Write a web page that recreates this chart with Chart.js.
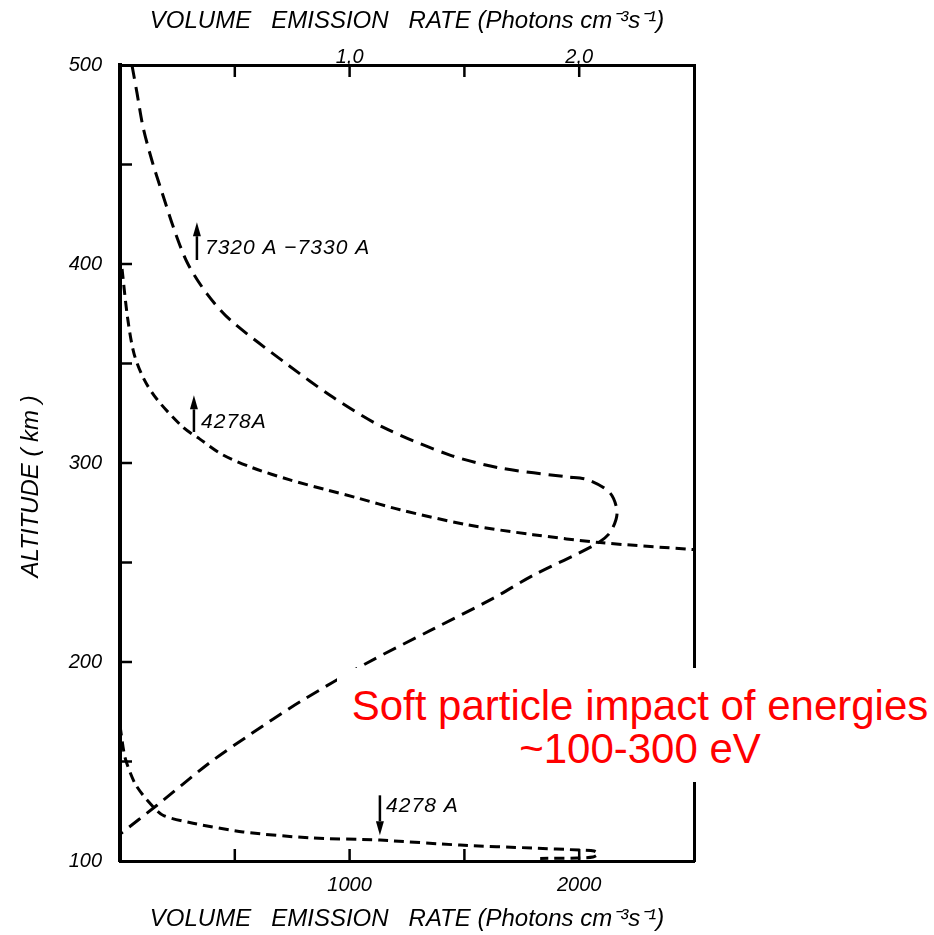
<!DOCTYPE html>
<html><head><meta charset="utf-8">
<script src="https://cdn.jsdelivr.net/npm/chart.js@4.4.1/dist/chart.umd.min.js"></script>
<style>
html,body{margin:0;padding:0;background:#fff;}
#wrap{position:relative;width:934px;height:935px;}
canvas{display:block;}
#note{position:absolute;left:337px;top:668px;width:597px;height:114px;box-sizing:border-box;padding:16px 0 0 9px;background:#fff;color:#ff0000;font:42px/43px "Liberation Sans",Arial,sans-serif;text-align:center;white-space:nowrap;}
</style></head><body>
<div id="wrap"><canvas id="c" width="934" height="935"></canvas>
<div id="note">Soft particle impact of energies<br>~100-300 eV</div></div>
<script>
// ---- data ----
// 7320 A - 7330 A emission (x: photons cm^-3 s^-1, y: altitude km)
const rate7320 = [52, 74, 100, 139, 183, 240, 296, 379, 479, 727, 928, 1145, 1437, 1655, 1947, 2040, 2134, 2165, 2134, 2070, 1799, 1625, 1363, 1076, 784, 566, 392, 161, 0];
const alt7320  = [500, 486, 469, 452, 436, 416, 400, 385, 372, 349.7, 333, 318, 304, 297.5, 293, 291.5, 285, 275, 265, 259, 243.5, 232, 216.5, 199.5, 180, 163.5, 149.5, 128, 113.5];
// 4278 A, upper profile
const rate4278u = [9, 33, 61, 105, 161, 274, 348, 449, 580, 740, 900, 1032, 1220, 1511, 1799, 2091, 2500];
const alt4278u  = [397.5, 373, 355, 342, 332, 318, 312, 304, 297.5, 291.5, 286.5, 282.5, 276.5, 269, 264, 260, 256.5];
// 4278 A, lower profile
const rate4278l = [0, 22, 65, 118, 187, 318, 536, 828, 1132, 1481, 1799, 2000, 2065, 2082, 2060, 1990, 1830];
const alt4278l  = [168, 152, 139, 130.6, 123, 119, 114.6, 111.6, 110.5, 108, 106.5, 105.5, 105, 103.5, 102, 101.5, 101.3];
// axis ticks
const xTickLabels = {1000: '1000', 2000: '2000'};
const xTopTickLabels = {1000: '1,0', 2000: '2,0'};
const yTickLabels = {100: '100', 200: '200', 300: '300', 400: '400', 500: '500'};
// curve annotations (data coordinates)
const notes = [
  {text: '7320 A \u22127330 A', x: 335, from: 402, to: 421, tx: 370, ty: 405},
  {text: '4278A', x: 322, from: 315.6, to: 334, tx: 353, ty: 317.6},
  {text: '4278 A', x: 1132, from: 133, to: 113, tx: 1159, ty: 124.6}
];

const pts = (xs, ys) => xs.map((x, i) => ({x: x, y: ys[i]}));
const FONT = '"Liberation Sans", Arial, sans-serif';

const decor = {
  id: 'decor',
  afterDatasetsDraw(chart) {
    const ctx = chart.ctx, a = chart.chartArea;
    const sx = chart.scales.x, sy = chart.scales.y;
    ctx.save();
    ctx.strokeStyle = '#000'; ctx.fillStyle = '#000'; ctx.lineWidth = 2.5;
    const L = 12;
    sx.ticks.forEach(t => {
      if (t.value <= sx.min || t.value >= sx.max) return;
      const px = sx.getPixelForValue(t.value);
      ctx.beginPath(); ctx.moveTo(px, a.bottom); ctx.lineTo(px, a.bottom - L); ctx.stroke();
      ctx.beginPath(); ctx.moveTo(px, a.top); ctx.lineTo(px, a.top + L); ctx.stroke();
    });
    sy.ticks.forEach(t => {
      if (t.value <= sy.min || t.value >= sy.max) return;
      const py = sy.getPixelForValue(t.value);
      ctx.beginPath(); ctx.moveTo(a.left, py); ctx.lineTo(a.left + L, py); ctx.stroke();
    });
    // arrows + labels
    notes.forEach(n => {
      const px = sx.getPixelForValue(n.x);
      const y0 = sy.getPixelForValue(n.from), y1 = sy.getPixelForValue(n.to);
      const dir = y1 < y0 ? -1 : 1;
      const head = 14;
      ctx.lineWidth = 2.5;
      ctx.beginPath(); ctx.moveTo(px, y0); ctx.lineTo(px, y1 - dir * head); ctx.stroke();
      ctx.beginPath(); ctx.moveTo(px, y1); ctx.lineTo(px - 4, y1 - dir * head); ctx.lineTo(px + 4, y1 - dir * head); ctx.closePath(); ctx.fill();
      ctx.font = 'italic 21px ' + FONT;
      if ('letterSpacing' in ctx) ctx.letterSpacing = '1px';
      ctx.textAlign = 'left'; ctx.textBaseline = 'alphabetic';
      ctx.fillText(n.text, sx.getPixelForValue(n.tx), sy.getPixelForValue(n.ty));
      if ('letterSpacing' in ctx) ctx.letterSpacing = '0px';
    });
    ctx.restore();
  }
};

const common = {type: 'linear', min: 0, max: 2500};
const titleText = 'VOLUME   EMISSION   RATE (Photons cm\u207B\u00B3s\u207B\u00B9)';

new Chart(document.getElementById('c'), {
  type: 'scatter',
  data: {
    datasets: [
      {label: '7320 A - 7330 A', data: pts(rate7320, alt7320), showLine: true, pointRadius: 0, borderColor: '#000', borderWidth: 3, borderDash: [14, 8], tension: 0.3, fill: false},
      {label: '4278 A (upper)', data: pts(rate4278u, alt4278u), showLine: true, pointRadius: 0, borderColor: '#000', borderWidth: 3, borderDash: [10, 6], tension: 0.3, fill: false},
      {label: '4278 A (lower)', data: pts(rate4278l, alt4278l), showLine: true, pointRadius: 0, borderColor: '#000', borderWidth: 3, borderDash: [10, 6], tension: 0.25, fill: false}
    ]
  },
  options: {
    responsive: false, animation: false, devicePixelRatio: 1,
    layout: {padding: {left: 0, right: 240, top: 0, bottom: 0}},
    plugins: {legend: {display: false}, tooltip: {enabled: false}},
    scales: {
      x: Object.assign({}, common, {
        position: 'bottom',
        afterFit: s => { s.height = 74; },
        grid: {display: false, drawTicks: false},
        border: {display: true, width: 3, color: '#000'},
        ticks: {stepSize: 500, autoSkip: false, maxRotation: 0, padding: 12, color: '#000',
          font: {family: FONT, size: 20, style: 'italic'},
          callback: v => xTickLabels[v] || ''},
        title: {display: true, text: titleText, color: '#000', padding: {top: 0, bottom: 1},
          font: {family: FONT, size: 24, style: 'italic'}}
      }),
      x2: Object.assign({}, common, {
        position: 'top',
        afterFit: s => { s.height = 65; },
        grid: {display: false, drawTicks: false},
        border: {display: true, width: 3, color: '#000'},
        ticks: {stepSize: 500, autoSkip: false, maxRotation: 0, padding: -4, color: '#000',
          font: {family: FONT, size: 20, style: 'italic'},
          callback: v => xTopTickLabels[v] || ''},
        title: {display: true, text: titleText, color: '#000', padding: {top: 7, bottom: 0},
          font: {family: FONT, size: 24, style: 'italic'}}
      }),
      y: {
        type: 'linear', position: 'left', min: 100, max: 500,
        afterFit: s => { s.width = 120; },
        grid: {display: false, drawTicks: false},
        border: {display: true, width: 4, color: '#000'},
        ticks: {stepSize: 50, autoSkip: false, padding: 18, color: '#000',
          font: {family: FONT, size: 20, style: 'italic'},
          callback: v => yTickLabels[v] || ''},
        title: {display: true, text: 'ALTITUDE ( km )       ', color: '#000', padding: {top: 17, bottom: 0},
          font: {family: FONT, size: 24, style: 'italic'}}
      },
      y2: {
        type: 'linear', position: 'right', min: 100, max: 500,
        afterFit: s => { s.width = 0; },
        grid: {display: false, drawTicks: false},
        border: {display: true, width: 3, color: '#000'},
        ticks: {display: false}
      }
    }
  },
  plugins: [decor]
});
</script>
</body></html>
